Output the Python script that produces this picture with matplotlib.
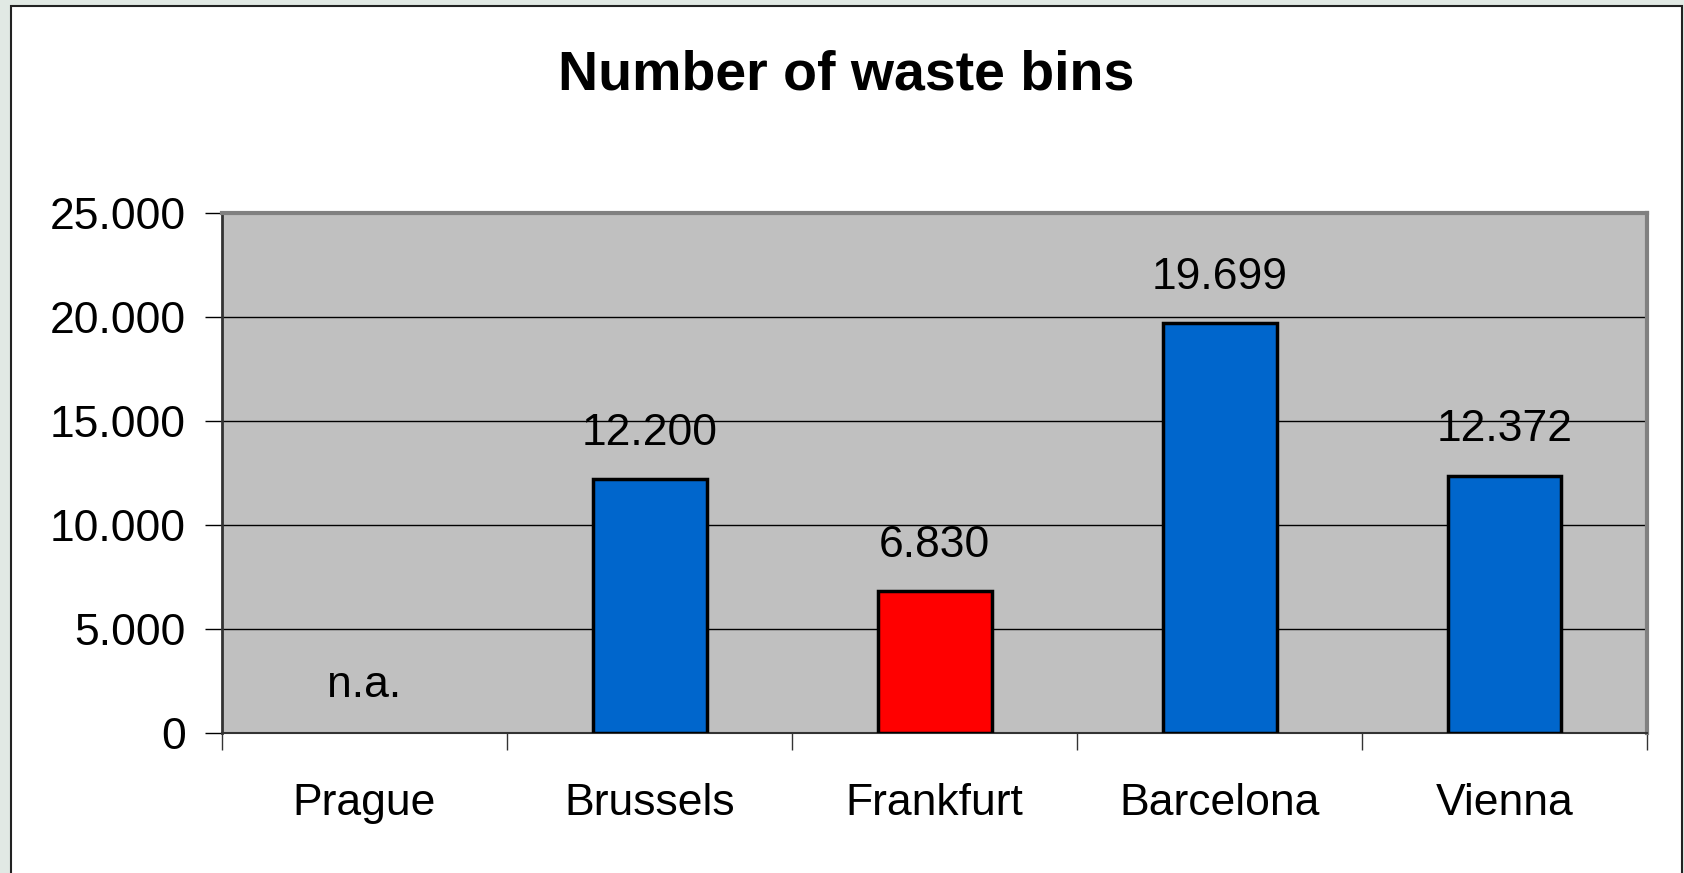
import numpy as np
import matplotlib.pyplot as plt
from matplotlib.patches import Rectangle
from matplotlib.ticker import FuncFormatter

cities = ["Prague", "Brussels", "Frankfurt", "Barcelona", "Vienna"]
bins = [np.nan, 12200, 6830, 19699, 12372]
colors = ["#0066CC", "#0066CC", "#FF0000", "#0066CC", "#0066CC"]

plt.rcParams['font.family'] = ['Liberation Sans', 'DejaVu Sans']

W, H = 1684, 873
fig = plt.figure(figsize=(W / 100, H / 100), dpi=100)
fig.patch.set_facecolor('#e1e9e4')

# white slide panel with dark frame
fig.patches.append(Rectangle((11 / W, -0.01), (1682 - 11) / W, 1 - 6 / H + 0.01,
                             transform=fig.transFigure, facecolor='white',
                             edgecolor='#222222', linewidth=1.5, zorder=-5))

ax = fig.add_axes([222 / W, 1 - 733 / H, (1647 - 222) / W, (733 - 213) / H])
ax.set_zorder(2)
ax.set_facecolor('#C0C0C0')

x = np.arange(len(cities))
has = ~np.isnan(bins)
ax.bar(x[has], np.array(bins)[has], width=0.40, color=np.array(colors)[has],
       edgecolor='black', linewidth=2.5, zorder=3)

fmt = lambda v: f"{v:,.0f}".replace(",", ".")
for xi, v in zip(x, bins):
    if np.isnan(v):
        ax.text(xi, 2300, "n.a.", ha='center', va='center', fontsize=32)
    else:
        ax.annotate(fmt(v), (xi, v), xytext=(0, 33), textcoords='offset points',
                    ha='center', va='center', fontsize=32)

ax.set_xlim(-0.5, len(cities) - 0.5)
ax.set_ylim(0, 25000)
ax.set_yticks(np.arange(0, 25001, 5000))
ax.yaxis.set_major_formatter(FuncFormatter(lambda v, p: fmt(v)))
ax.grid(axis='y', color='black', linewidth=1, zorder=1)
ax.set_axisbelow(True)

ax.set_xticks(np.arange(-0.5, len(cities), 1))
ax.set_xticklabels([])
ax.set_xticks(x, minor=True)
ax.set_xticklabels(cities, minor=True)
ax.tick_params(axis='x', which='major', direction='out', length=12, width=1, color='#333333')
ax.tick_params(axis='x', which='minor', length=0, pad=36, labelsize=32)
ax.tick_params(axis='y', direction='out', length=12, width=1, labelsize=32, pad=14)

ax.spines['left'].set_color('#333333')
ax.spines['left'].set_linewidth(2)
ax.spines['bottom'].set_color('#333333')
ax.spines['bottom'].set_linewidth(1.5)
for s in ['top', 'right']:
    ax.spines[s].set_color('#808080')
    ax.spines[s].set_linewidth(3)

fig.text(846 / W, 1 - 75 / H, "Number of waste bins", ha='center',
         va='center', fontsize=40, fontweight='bold')

fig.savefig("out.png", dpi=100, facecolor=fig.get_facecolor())
